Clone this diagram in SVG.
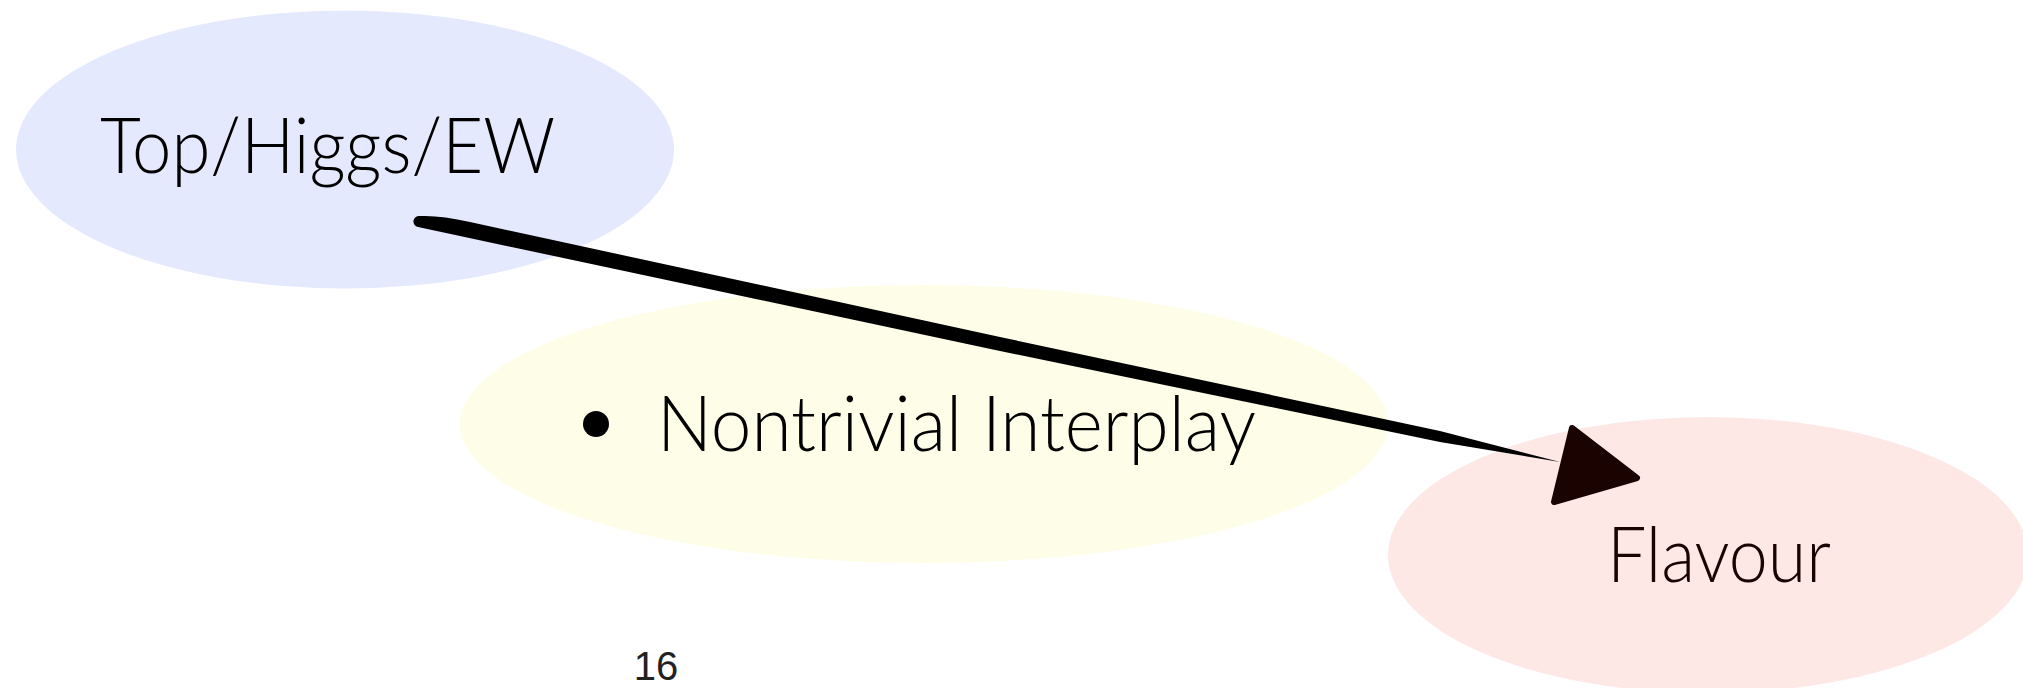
<svg xmlns="http://www.w3.org/2000/svg" width="2023" height="688" viewBox="0 0 2023 688">
<style>
.lbl{font-family:Lato,"Open Sans","Liberation Sans",sans-serif;font-weight:300;font-size:76px;fill:#000}
</style>
<rect width="2023" height="688" fill="#fff"/>
<g id="node-top">
<ellipse cx="345" cy="149.5" rx="329" ry="139" fill="#e5e9fd"/>
<text class="lbl" x="100" y="173" textLength="455" lengthAdjust="spacingAndGlyphs">Top/Higgs/EW</text>
</g>
<g id="node-interplay">
<ellipse cx="924" cy="424" rx="464" ry="139" fill="#fefee8"/>
<circle cx="596" cy="424" r="13" fill="#000"/>
<text class="lbl" x="657" y="451" textLength="599" lengthAdjust="spacingAndGlyphs">Nontrivial Interplay</text>
</g>
<g id="node-flavour">
<ellipse cx="1708" cy="555" rx="320" ry="138" fill="#fde8e6"/>
<text class="lbl" x="1607" y="582" textLength="224" lengthAdjust="spacingAndGlyphs" style="fill:#1a0300">Flavour</text>
</g>
<g id="connectors">
<path d="M 420,216 Q 440,215 470,222 L 1000,337 L 1440,431 L 1560,462 L 1440,442 L 1000,351 L 460,236 L 418,227 A 5.5 5.5 0 0 1 420,216 Z" fill="#000"/>
<polygon points="1572,428 1637,478 1554,502" fill="#1a0300" stroke="#1a0300" stroke-width="6" stroke-linejoin="round"/>
</g>
<text x="656" y="680" font-family="Liberation Sans, Arial, sans-serif" font-size="40" fill="#222" text-anchor="middle">16</text>
</svg>
